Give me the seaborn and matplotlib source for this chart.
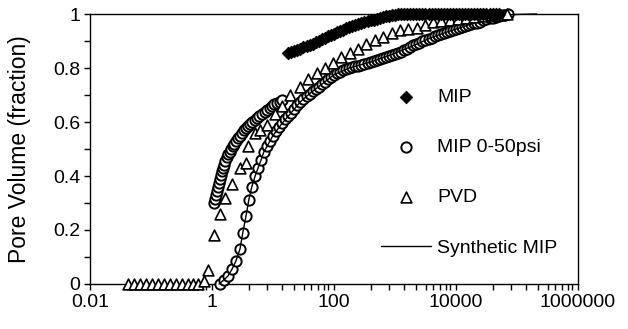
import numpy as np
import pandas as pd
import matplotlib
matplotlib.use('Agg')
import matplotlib.pyplot as plt
import matplotlib.ticker as mticker
import seaborn as sns

# MIP (filled diamonds)
mip_x = [17.8, 20, 22.4, 25.1, 28.2, 31.6, 35.5, 39.8, 44.7, 50.1, 56.2, 63.1,
         70.8, 79.4, 89.1, 100, 112, 126, 141, 158, 178, 200, 224, 251, 282,
         316, 355, 398, 447, 501, 562, 631, 708, 794, 891, 1000, 1122,
         1259, 1413, 1585, 1778, 1995, 2239, 2512, 2818, 3162, 3548, 3981,
         4467, 5012, 5623, 6310, 7079, 7943, 8913, 10000, 11220, 12589, 14125,
         15849, 17783, 19953, 22387, 25119, 28184, 31623, 35481, 39811, 44668,
         50119]
mip_y = [0.855, 0.858, 0.862, 0.867, 0.872, 0.876, 0.881, 0.886, 0.89, 0.895,
         0.90, 0.906, 0.912, 0.917, 0.922, 0.927, 0.932, 0.937, 0.942, 0.947,
         0.952, 0.957, 0.961, 0.964, 0.967, 0.97, 0.973, 0.976, 0.979, 0.982,
         0.985, 0.988, 0.991, 0.994, 0.996, 0.998, 1.0,
         1.0, 1.0, 1.0, 1.0, 1.0, 1.0, 1.0, 1.0, 1.0, 1.0, 1.0, 1.0, 1.0, 1.0,
         1.0, 1.0, 1.0, 1.0, 1.0, 1.0, 1.0, 1.0, 1.0, 1.0, 1.0, 1.0, 1.0, 1.0,
         1.0, 1.0, 1.0, 1.0, 1.0]

# MIP 0-50psi (open circles), left branch
lp_left_x = [1.08, 1.12, 1.16, 1.2, 1.25, 1.3, 1.35, 1.4, 1.46, 1.52, 1.57,
             1.65, 1.76, 1.86, 1.97, 2.08, 2.2, 2.33, 2.47, 2.65, 2.88, 3.1,
             3.35, 3.6, 3.9, 4.2, 4.5, 5.0, 5.5, 6.0, 6.6, 7.3, 8.0, 8.8, 9.6,
             10.5, 11.6, 12.8, 14]
lp_left_y = [0.30, 0.315, 0.33, 0.345, 0.36, 0.375, 0.39, 0.405, 0.42, 0.43,
             0.44, 0.455, 0.47, 0.48, 0.49, 0.50, 0.51, 0.52, 0.53, 0.54, 0.55,
             0.56, 0.57, 0.578, 0.585, 0.592, 0.60, 0.607, 0.615, 0.622, 0.63,
             0.638, 0.645, 0.652, 0.66, 0.665, 0.67, 0.675, 0.68]

# MIP 0-50psi (open circles), right branch
lp_right_x = [1.35, 1.57, 1.83, 2.13, 2.47, 2.88, 3.2, 3.6, 4.0, 4.5, 5.1, 5.7,
              6.4, 7.1, 8.0, 8.9,
              10, 11.2, 12.6, 14.1, 15.8, 17.8, 20, 22.4, 25.1, 28.2, 31.6,
              35.5, 39.8, 44.7, 50.1, 56.2, 63.1, 70.8, 79.4, 89.1, 100, 112,
              126, 141, 158, 178, 200, 224, 251, 282, 316, 355, 398, 447, 501,
              562, 631, 708, 794, 891, 1000, 1122, 1259, 1413, 1585, 1778, 1995,
              2239, 2512, 2818, 3162, 3548, 3981, 4467, 5012, 5623, 6310, 7079,
              7943, 8913, 10000, 11220, 12589, 14125, 15849, 17783, 19953,
              22387, 25119, 28184, 31623, 35481, 39811, 44668, 50119, 56234,
              63096, 70795]
lp_right_y = [0, 0.015, 0.03, 0.055, 0.085, 0.13, 0.19, 0.25, 0.31, 0.36, 0.40,
              0.43, 0.46, 0.49, 0.51, 0.53,
              0.55, 0.565, 0.58, 0.595, 0.61, 0.622, 0.635, 0.648, 0.662,
              0.675, 0.685, 0.695, 0.705, 0.714, 0.722, 0.731, 0.74, 0.749,
              0.758, 0.766, 0.775, 0.781, 0.787, 0.792, 0.797, 0.80, 0.803,
              0.806, 0.809, 0.812, 0.815, 0.818, 0.822, 0.826, 0.83, 0.834,
              0.838, 0.842, 0.846, 0.85, 0.853, 0.856, 0.86, 0.866, 0.872,
              0.878, 0.884, 0.889, 0.894, 0.899, 0.904, 0.909, 0.913, 0.917,
              0.921, 0.925, 0.929, 0.933, 0.937, 0.941, 0.945, 0.949, 0.952,
              0.956, 0.959, 0.962, 0.965, 0.968, 0.972, 0.976, 0.98, 0.984,
              0.987, 0.99, 0.993, 0.996, 0.998, 1.0]

# PVD (open triangles)
pvd_x = [0.042, 0.053, 0.066, 0.083, 0.104, 0.13, 0.163, 0.205, 0.257, 0.32,
         0.40, 0.49, 0.59, 0.74, 0.86, 1.08, 1.35, 1.63, 2.13, 2.88, 3.6, 3.9,
         5.1, 6.1, 8.0, 10.8, 14, 19, 27.6, 37, 52, 71, 96, 130, 183, 248, 335,
         470, 640, 890, 1200, 1630, 2300, 3100, 4200, 5700, 7900, 10600, 14400,
         20000, 27500, 37000, 52000, 68000]
pvd_y = [0, 0, 0, 0, 0, 0, 0, 0, 0, 0, 0, 0, 0, 0.01, 0.05, 0.18, 0.26, 0.32,
         0.37, 0.43, 0.45, 0.51, 0.56, 0.57, 0.59, 0.63, 0.66, 0.70, 0.73,
         0.76, 0.78, 0.80, 0.82, 0.84, 0.855, 0.87, 0.89, 0.905, 0.915, 0.93,
         0.94, 0.945, 0.95, 0.96, 0.97, 0.975, 0.978, 0.982, 0.987, 0.99,
         0.993, 0.996, 0.998, 1.0]

# Synthetic MIP (line)
syn_x = [1.3, 1.57, 1.83, 2.13, 2.47, 2.88, 3.2, 3.6, 4.0, 4.5, 5.1, 5.7, 6.4,
         7.1, 8.0, 10, 14.1, 20, 28.2, 39.8, 63.1, 100, 178, 398, 891, 1778,
         3981, 7943, 15849, 35481, 70795, 120000, 210000]
syn_y = [0, 0.015, 0.03, 0.055, 0.085, 0.13, 0.19, 0.25, 0.31, 0.36, 0.40,
         0.43, 0.46, 0.49, 0.51, 0.55, 0.595, 0.635, 0.675, 0.705, 0.74,
         0.775, 0.80, 0.822, 0.85, 0.878, 0.913, 0.937, 0.959, 0.984, 0.997,
         0.999, 1.0]

sns.set_theme(style='ticks')
plt.rcParams['font.family'] = ['Liberation Sans', 'DejaVu Sans']
plt.rcParams['text.color'] = 'black'
plt.rcParams['axes.labelcolor'] = 'black'

fig = plt.figure(figsize=(6.28, 3.29), dpi=100)
ax = fig.add_axes([0.1433, 0.1368, 0.777, 0.8206])

mip_df = pd.DataFrame({'x': mip_x, 'y': mip_y})
lp_df = pd.DataFrame({'x': lp_left_x + lp_right_x, 'y': lp_left_y + lp_right_y})
pvd_df = pd.DataFrame({'x': pvd_x, 'y': pvd_y})
syn_df = pd.DataFrame({'x': syn_x, 'y': syn_y})

sns.lineplot(data=syn_df, x='x', y='y', ax=ax, color='black', linewidth=1.0,
             estimator=None, sort=False, label='Synthetic MIP', zorder=4, clip_on=False)
sns.scatterplot(data=lp_df, x='x', y='y', ax=ax, marker='o', s=55,
                facecolor='white', edgecolor='black', linewidth=1.4,
                label='MIP 0-50psi', zorder=3, clip_on=False)
sns.scatterplot(data=pvd_df, x='x', y='y', ax=ax, marker='^', s=60,
                facecolor='white', edgecolor='black', linewidth=1.2,
                label='PVD', zorder=5, clip_on=False)
sns.scatterplot(data=mip_df, x='x', y='y', ax=ax, marker='D', s=42,
                color='black', edgecolor='black', linewidth=0.5,
                label='MIP', zorder=6, clip_on=False)

ax.set_xscale('log')
ax.set_xlim(0.01, 1e6)
ax.set_ylim(0, 1)

xt = [0.01, 1, 100, 10000, 1000000]
ax.xaxis.set_major_locator(mticker.FixedLocator(xt))
ax.set_xticklabels(['0.01', '1', '100', '10000', '1000000'])
subs = [4, 8, 14, 22, 32, 42, 55, 68, 80]
minor = [b * s for b in [0.01, 1, 100, 10000] for s in subs]
ax.xaxis.set_minor_locator(mticker.FixedLocator(minor))
ax.xaxis.set_minor_formatter(mticker.NullFormatter())

ax.set_yticks([0, 0.2, 0.4, 0.6, 0.8, 1.0])
ax.set_yticklabels(['0', '0.2', '0.4', '0.6', '0.8', '1'])
ax.yaxis.set_minor_locator(mticker.FixedLocator([0.1, 0.3, 0.5, 0.7, 0.9]))

ax.tick_params(axis='both', which='both', direction='out', length=4, width=1,
               colors='black', labelsize=14, pad=3)
for sp in ax.spines.values():
    sp.set_visible(True)
    sp.set_color('black')
    sp.set_linewidth(1.0)

ax.set_xlabel('')
ax.set_ylabel('Pore Volume (fraction)', fontsize=16.5, color='black')
ax.yaxis.set_label_coords(-0.12, 0.5)

h, l = ax.get_legend_handles_labels()
order = ['MIP', 'MIP 0-50psi', 'PVD', 'Synthetic MIP']
hd = dict(zip(l, h))
ax.legend([hd[k] for k in order], order, loc='center left',
          bbox_to_anchor=(0.576, 0.413), frameon=False, fontsize=14,
          borderpad=0, handlelength=2.6, handletextpad=0.3, labelspacing=1.68,
          scatterpoints=1)

fig.savefig('out.png', dpi=100)
